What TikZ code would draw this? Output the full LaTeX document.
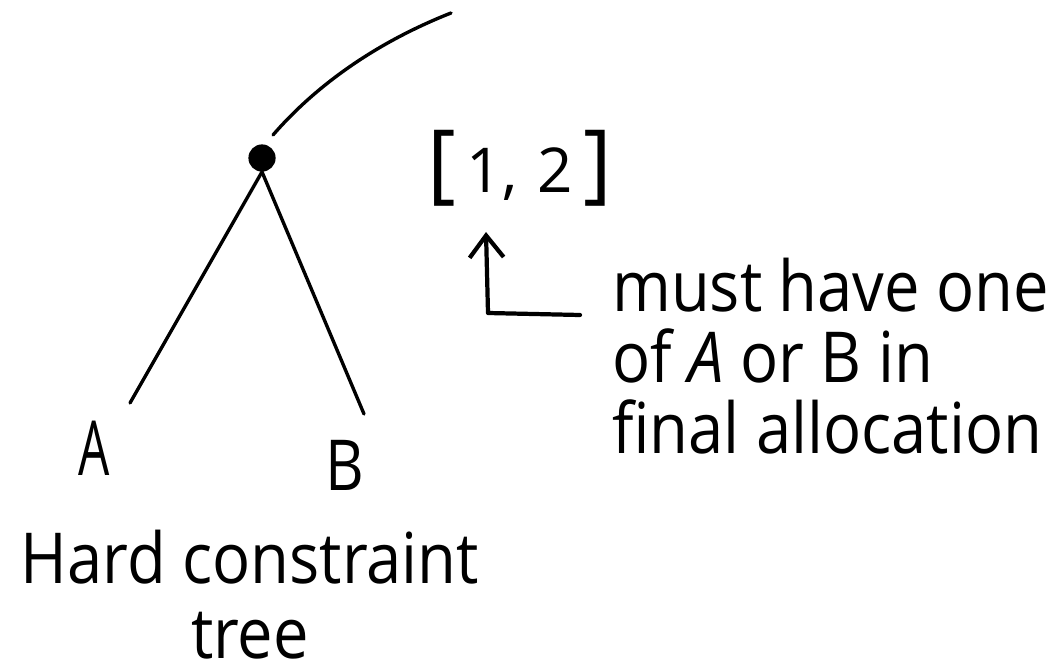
\documentclass[tikz,border=0pt]{standalone}
\usepackage{fontspec}
\setmainfont{Open Sans}
\newfontfamily\comicish[FakeStretch=0.9]{Open Sans}
\usetikzlibrary{arrows.meta}
\tikzset{
  hand/.style={line width=2.4pt, line cap=round, line join=round, black},
  arrline/.style={line width=3pt, line cap=round, line join=round, black, -{Straight Barb[length=0.55cm,width=0.85cm,line width=3pt]}},
  bigtext/.style={font=\comicish\fontsize{50}{50.5}\selectfont, inner sep=0pt},
  handlabel/.style={font=\fontsize{54}{60}\selectfont, inner sep=0pt},
}
\begin{document}
\begin{tikzpicture}[x=0.025cm, y=-0.025cm]
\useasboundingbox (0,0) rectangle (1064,662);
% root dot
\node[circle, fill=black, minimum size=0.68cm, inner sep=0pt] (root) at (262,158) {};
\coordinate (up) at (451,13);
\coordinate (curvestart) at (273,135);
\draw[hand] (curvestart) .. controls (312,90) and (370,45) .. (up);
% leaves
\coordinate (la) at (130,403);
\coordinate (lb) at (364,414);
\draw[hand] (root.south) -- (la);
\draw[hand] (root.south) -- (lb);
\node[handlabel, xscale=0.65] (A) at (94,448) {A};
\node[handlabel, xscale=0.85, font=\fontsize{50}{60}\selectfont] (B) at (345,465) {B};
% interval
\node[inner sep=0pt, font=\fontsize{44}{56}\selectfont] (interval) at (520,168) {{\fontsize{62}{70}\selectfont[}\,1,\,\,2\,{\fontsize{62}{70}\selectfont]}};
% arrow
\coordinate (tail) at (580,315);
\coordinate (corner) at (488,313);
\coordinate (tip) at (486,232);
\draw[arrline] (tail) -- (corner) -- (tip);
% annotation
\node[bigtext, anchor=north west, align=left] (note) at (612,258) {must have one\\of \emph{A} or B in\\final allocation};
% caption
\node[bigtext, anchor=north, font=\comicish\fontsize{50}{53}\selectfont] (caption) at (250,530) {\vbox{\halign{\hfil#\hfil\cr Hard constraint\cr tree\cr}}};
\end{tikzpicture}
\end{document}
